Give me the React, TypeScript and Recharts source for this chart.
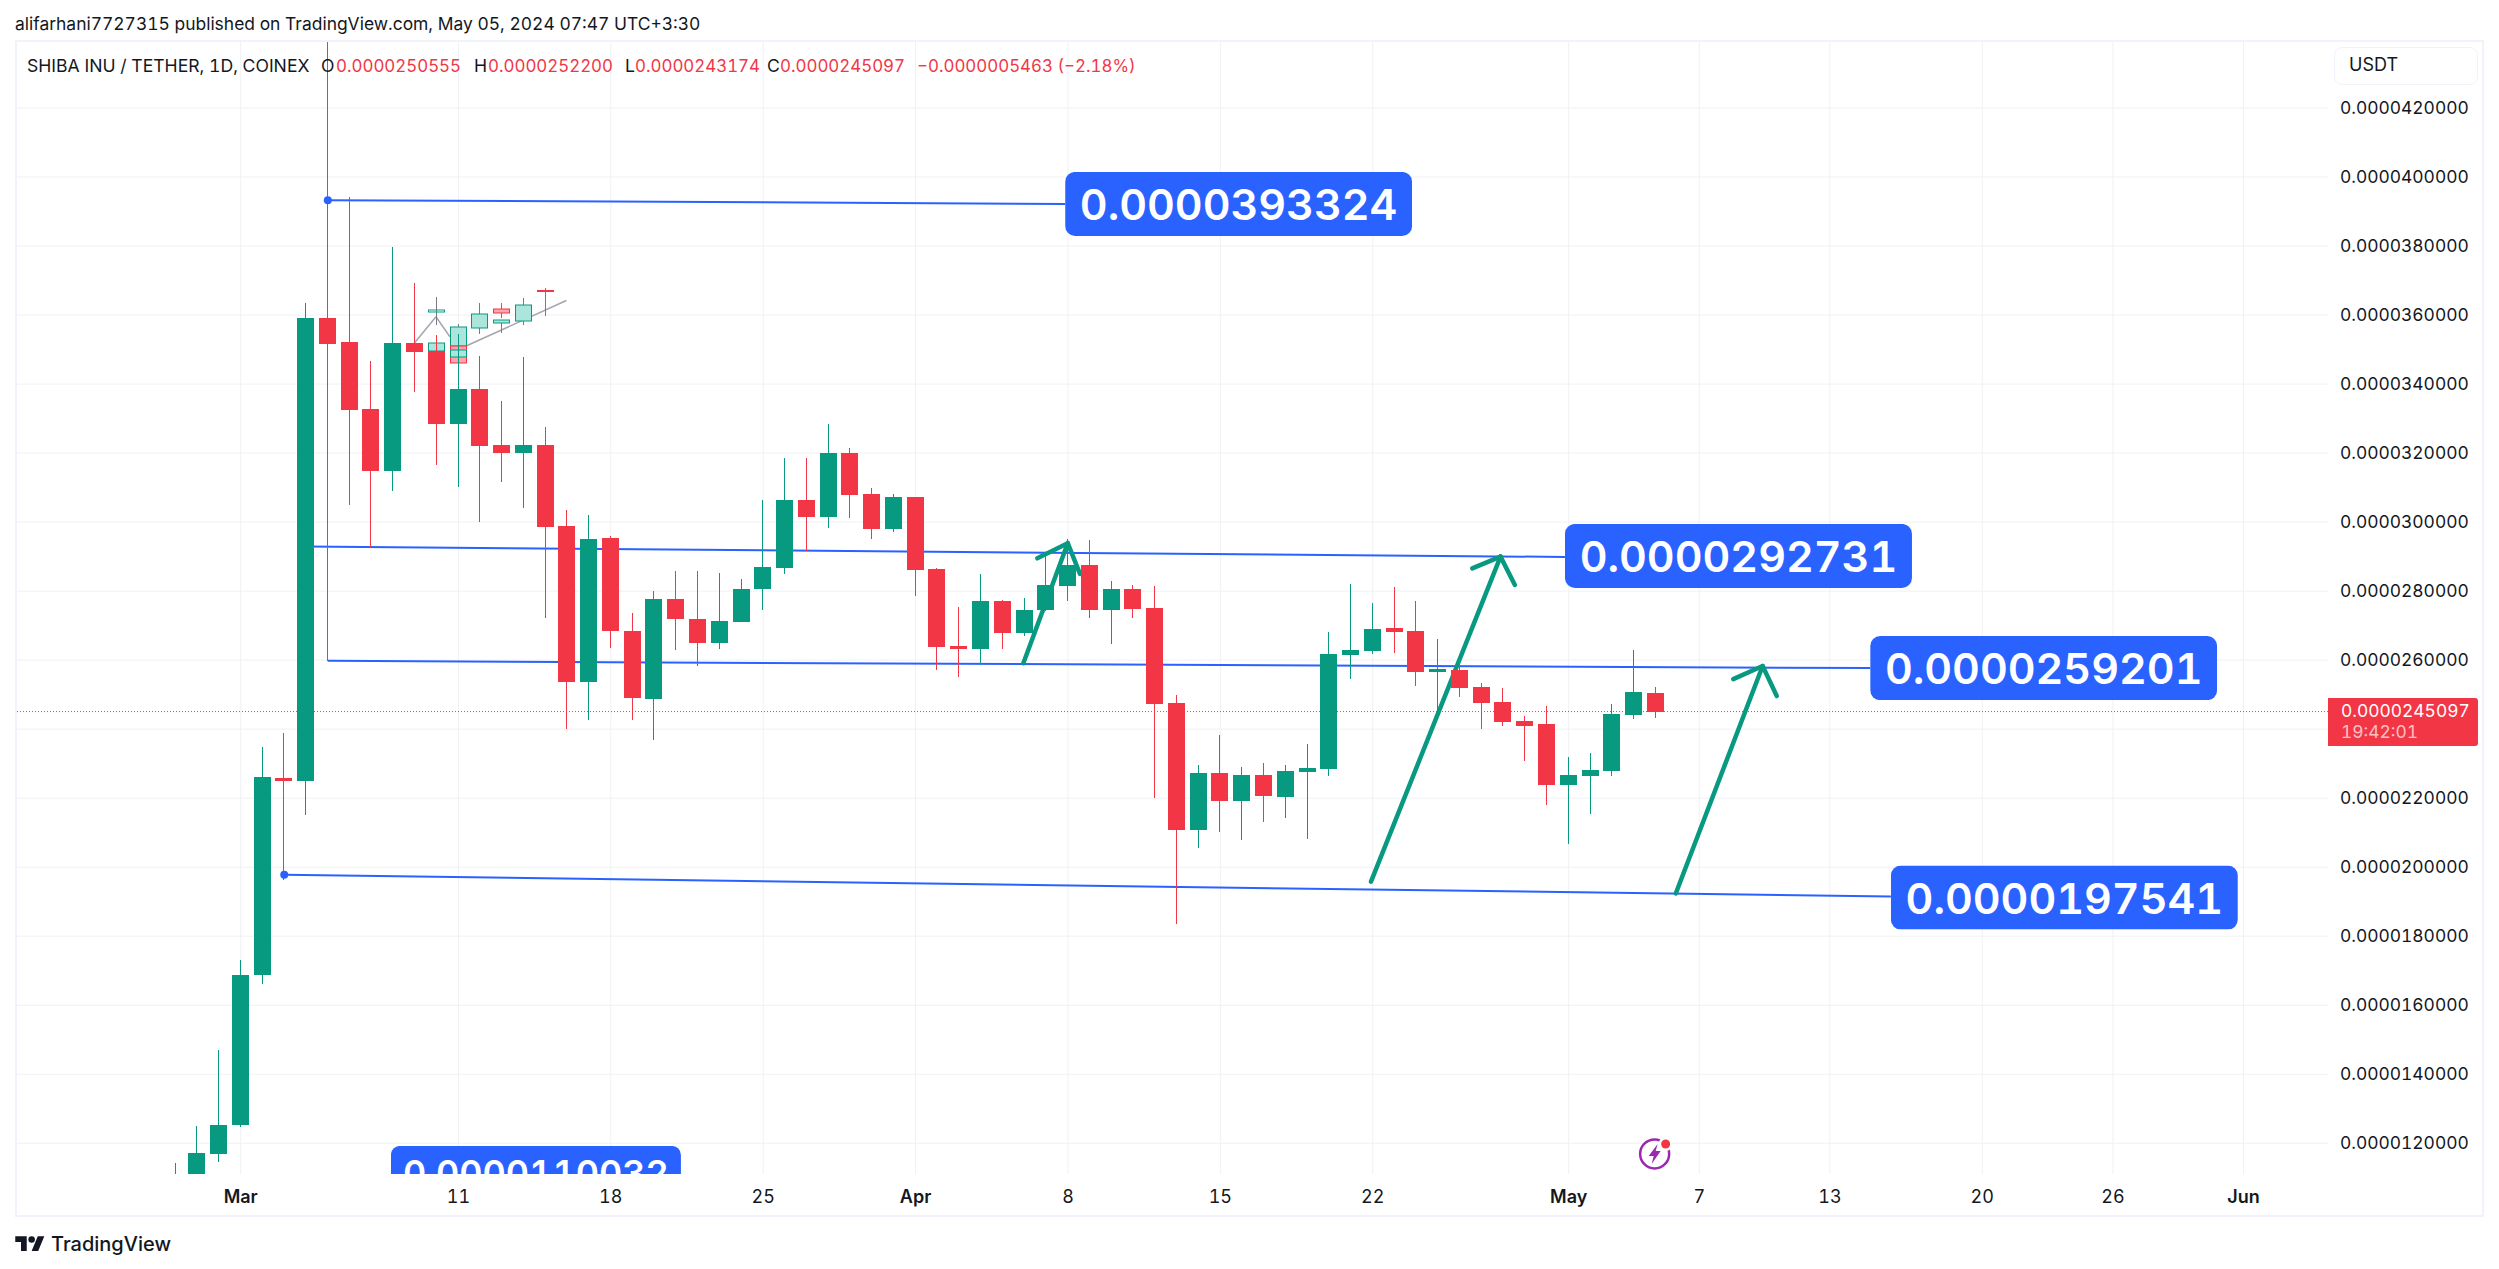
import { Bar, CartesianGrid, ComposedChart, ReferenceDot, ReferenceLine, XAxis, YAxis } from "recharts";

const UP = "#089981";
const DOWN = "#F23645";
const BLUE = "#2962FF";
const GRID = "#F0F1F4";
const INK = "#131722";
const FONT = "Inter, 'Noto Sans', sans-serif";

// prices are in millionths of USDT, days count from Mar 1
const days = [-3, -2, -1, 0, 1, 2, 3, 4, 5, 6, 7, 8, 9, 10, 11, 12, 13, 14, 15, 16, 17, 18, 19, 20, 21, 22, 23, 24, 25, 26, 27, 28, 29, 30, 31, 32, 33, 34, 35, 36, 37, 38, 39, 40, 41, 42, 43, 44, 45, 46, 47, 48, 49, 50, 51, 52, 53, 54, 55, 56, 57, 58, 59, 60, 61, 62, 63, 64, 65];
const opens = [10.8, 10.9, 11.69, 12.53, 16.88, 22.59, 22.51, 35.91, 35.22, 33.28, 31.48, 35.19, 34.96, 32.84, 33.86, 32.23, 32.0, 32.23, 29.89, 25.37, 29.54, 26.85, 24.87, 27.77, 27.19, 26.5, 27.11, 28.06, 28.67, 30.64, 30.15, 32.0, 30.81, 29.8, 30.73, 28.64, 26.41, 26.32, 27.71, 26.79, 27.45, 28.15, 28.76, 27.45, 28.06, 27.51, 24.76, 21.08, 22.73, 21.92, 22.67, 22.03, 22.76, 22.85, 26.15, 26.27, 26.93, 26.85, 25.66, 25.71, 25.22, 24.79, 24.24, 24.15, 22.38, 22.64, 22.79, 24.41, 25.06];
const highs = [11.43, 12.49, 14.71, 17.32, 23.48, 23.89, 36.35, 44.5, 39.42, 34.67, 37.97, 36.93, 35.42, 35.45, 34.81, 33.51, 34.78, 32.76, 30.35, 30.21, 29.6, 27.37, 28.0, 28.58, 28.58, 28.53, 28.35, 30.64, 31.86, 31.86, 32.84, 32.15, 30.99, 30.81, 30.73, 28.66, 27.54, 28.5, 27.73, 27.8, 29.05, 29.51, 29.48, 28.29, 28.18, 28.15, 24.99, 22.96, 23.83, 22.9, 23.02, 22.96, 23.57, 26.82, 28.21, 27.66, 28.12, 27.71, 26.61, 26.0, 25.34, 25.19, 24.38, 24.67, 23.19, 23.31, 24.73, 26.29, 25.22];
const lows = [10.7, 10.8, 11.47, 12.46, 16.61, 19.64, 21.52, 25.98, 30.5, 29.26, 30.9, 33.77, 31.66, 31.02, 30.0, 31.16, 30.41, 27.22, 24.0, 24.27, 26.35, 24.27, 23.69, 26.29, 25.83, 26.32, 27.11, 27.45, 28.5, 29.16, 29.83, 30.12, 29.51, 29.71, 27.86, 25.71, 25.51, 25.89, 26.32, 26.7, 27.42, 27.71, 27.22, 26.47, 27.22, 22.01, 18.35, 20.56, 21.02, 20.79, 21.31, 21.43, 20.82, 22.64, 25.45, 26.18, 26.21, 25.25, 24.47, 24.93, 24.0, 24.09, 23.08, 21.8, 20.67, 21.54, 22.64, 24.3, 24.32];
const closes = [11.0, 11.72, 12.53, 16.88, 22.62, 22.51, 35.91, 35.16, 33.25, 31.48, 35.19, 34.93, 32.84, 33.86, 32.21, 32.0, 32.23, 29.86, 25.37, 29.51, 26.85, 24.9, 27.77, 27.19, 26.5, 27.13, 28.06, 28.7, 30.64, 30.15, 32.0, 30.79, 29.8, 30.73, 28.61, 26.38, 26.32, 27.71, 26.79, 27.45, 28.18, 28.76, 27.45, 28.06, 27.48, 24.73, 21.08, 22.73, 21.92, 22.67, 22.06, 22.79, 22.88, 26.18, 26.29, 26.9, 26.82, 25.66, 25.74, 25.19, 24.76, 24.21, 24.09, 22.38, 22.67, 22.82, 24.44, 25.08, 24.51];

// faded forecast candles, [day, open, high, low, close]
const ghostFirst = [
  [9, 36.08, 36.52, 35.71, 36.14],
  [10, 35.11, 35.74, 35.11, 35.64],
  [11, 35.62, 36.35, 35.45, 36.02],
  [12, 36.17, 36.35, 35.9, 36.05],
  [13, 35.82, 36.49, 35.71, 36.28],
  [14, 36.73, 36.78, 35.97, 36.68],
];
const ghostSecond = [
  [9, 34.96, 35.18, 34.96, 35.18],
  [10, 35.1, 35.1, 34.6, 34.6],
  [12, 35.76, 35.85, 35.49, 35.85],
];
const ghostThird = [[10, 34.79, 34.98, 34.79, 34.98]];

const priceTicks = [12, 14, 16, 18, 20, 22, 24, 26, 28, 30, 32, 34, 36, 38, 40, 42];
const dayTicks = [0, 10, 17, 24, 31, 38, 45, 52, 61, 67, 73, 80, 86, 92];
const dayLabels = ["Mar", "11", "18", "25", "Apr", "8", "15", "22", "May", "7", "13", "20", "26", "Jun"];
const monthLabels = ["Mar", "Apr", "May", "Jun"];

// drawings: [day, price, day, price]
const blueLines = [
  [4, 39.33, 37.87, 39.22],
  [3, 29.29, 60.83, 28.99],
  [4, 25.98, 74.85, 25.77],
  [2, 19.78, 75.8, 19.15],
];
const blueDots = [[4, 39.33], [2, 19.78]];
const arrowLines = [
  [35.95, 25.91, 37.99, 29.39],
  [36.59, 28.95, 37.99, 29.39],
  [38.55, 28.5, 37.99, 29.39],
  [51.92, 19.58, 57.87, 29.0],
  [56.57, 28.66, 57.87, 29.0],
  [58.53, 28.18, 57.87, 29.0],
  [65.92, 19.24, 69.91, 25.83],
  [68.56, 25.45, 69.91, 25.83],
  [70.56, 24.96, 69.91, 25.83],
];
const ghostLines = [
  [7.97, 35.18, 8.97, 35.95],
  [8.97, 35.95, 9.61, 35.37],
  [10.38, 35.11, 14.96, 36.42],
];
const calloutDays = [37.87, 60.83, 74.85, 75.8, 6.9];
const calloutPrices = [39.22, 29.02, 25.77, 19.12, 11.14];
const calloutTexts = ["0.0000393324", "0.0000292731", "0.0000259201", "0.0000197541", "0.0000110032"];
const lastPrice = 24.51;

const candleKeys = ["main", "first", "second", "third"];
const rows = days.map((day, i) => {
  const row: any = { day, main: { o: opens[i], h: highs[i], l: lows[i], c: closes[i] }, mainRange: [lows[i], highs[i]] };
  return row;
});
[ghostFirst, ghostSecond, ghostThird].forEach((list, n) => {
  list.forEach(([day, o, h, l, c]) => {
    const row = rows.find((r) => r.day === day);
    row[candleKeys[n + 1]] = { o, h, l, c };
    row[candleKeys[n + 1] + "Range"] = [l, h];
  });
});

const PLOT_HEIGHT = 1132;

function candleShape(key: string, ghost: boolean) {
  return (props: any) => {
    const { x, y, width, height, payload } = props;
    const v = payload[key];
    if (!v) return <g />;
    const unit = height / (v.h - v.l);
    const at = (p: number) => Math.round(y + (v.h - p) * unit);
    const cx = Math.floor(x + width / 2) + 0.5;
    const color = v.c >= v.o ? UP : DOWN;
    const top = at(Math.max(v.o, v.c));
    const bottom = at(Math.min(v.o, v.c));
    if (ghost) {
      const pale = v.c >= v.o ? "#ACE5DC" : "#FCA5AB";
      const thin = bottom - top < 3;
      return (
        <g>
          <line x1={cx} x2={cx} y1={at(v.h)} y2={at(v.l)} stroke="#787B86" strokeWidth={1} />
          {key === "first" && v.h === 36.78 ? (
            <rect x={cx - 8.5} y={top} width={17} height={2} fill={DOWN} />
          ) : (
            <rect x={cx - 8} y={top} width={16} height={Math.max(bottom - top, 1)} fill={thin ? "none" : pale} stroke={color} strokeWidth={1} />
          )}
        </g>
      );
    }
    return (
      <g>
        <line x1={cx} x2={cx} y1={at(v.h)} y2={at(v.l)} stroke={color} strokeWidth={1} />
        <rect x={cx - 8.5} y={top} width={17} height={Math.max(bottom - top, 2)} fill={color} />
      </g>
    );
  };
}

function DayTick({ x, payload }: any) {
  const label = dayLabels[dayTicks.indexOf(payload.value)];
  return (
    <text x={x} y={1196 - 42} textAnchor="middle" dominantBaseline="central" fontFamily={FONT} fontSize={18} fill={INK} fontWeight={monthLabels.includes(label) ? 600 : 400}>
      {label}
    </text>
  );
}

function Callout({ cx, cy, text, small }: any) {
  const w = small ? 290 : 347;
  const h = small ? 54 : 64;
  const top = cy - h / 2;
  return (
    <svg x={cx} y={top} width={w} height={Math.min(h, PLOT_HEIGHT - top)}>
      <rect width={w} height={h} rx={small ? 9 : 10} fill={BLUE} />
      <text x={w / 2} y={h / 2} textAnchor="middle" dominantBaseline="central" fontFamily={FONT} fontSize={small ? 36 : 43} fontWeight={600} fill="#fff" style={{ fontVariantNumeric: "tabular-nums" }}>
        {text}
      </text>
    </svg>
  );
}

function BoltIcon({ cx, cy }: any) {
  return (
    <g>
      <circle cx={cx} cy={cy} r={14.5} fill="#fff" stroke="#9C27B0" strokeWidth={2.5} />
      <path d={`M${cx + 3} ${cy - 10} L${cx - 6} ${cy + 2} L${cx - 1} ${cy + 2} L${cx - 3} ${cy + 10} L${cx + 6} ${cy - 3} L${cx + 1} ${cy - 3} Z`} fill="#9C27B0" />
      <circle cx={cx + 11} cy={cy - 10} r={7} fill="#fff" />
      <circle cx={cx + 11} cy={cy - 10} r={4.5} fill={DOWN} />
    </g>
  );
}

function Caption({ left, top, color = INK, children, size = 17.6, weight = 400 }: any) {
  return (
    <span style={{ position: "absolute", left, top, transform: "translateY(-50%)", color, fontSize: size, fontWeight: weight, whiteSpace: "nowrap", lineHeight: 1 }}>
      {children}
    </span>
  );
}

export default function App() {
  return (
    <div style={{ position: "absolute", left: 0, top: 0, width: 2499, height: 1269, background: "#fff", overflow: "hidden", fontFamily: FONT, fontVariantNumeric: "tabular-nums" }}>
      <Caption left={15} top={24} size={17.45}>alifarhani7727315 published on TradingView.com, May 05, 2024 07:47 UTC+3:30</Caption>
      <div style={{ position: "absolute", left: 15, top: 40, width: 2465, height: 1173, border: "2px solid #F0F3FA" }} />
      <div style={{ position: "absolute", left: 17, top: 42 }}>
        <ComposedChart width={2465} height={1173} data={rows} margin={{ top: 0, right: 0, bottom: 0, left: 0 }} barGap={-17} barSize={17}>
          <CartesianGrid stroke={GRID} strokeWidth={1} syncWithTicks />
          <XAxis type="number" dataKey="day" domain={[-10.276, 95.88]} allowDataOverflow ticks={dayTicks} interval={0} height={41} tickLine={false} axisLine={false} tick={<DayTick />} />
          <YAxis
            orientation="right"
            domain={[11.11, 43.912]}
            allowDataOverflow
            ticks={priceTicks}
            interval={0}
            width={154}
            tickLine={false}
            axisLine={false}
            tickMargin={6}
            tick={{ fontFamily: FONT, fontSize: 17.4, fill: INK }}
            tickFormatter={(v: number) => (v / 1e6).toFixed(10)}
          />
          {blueLines.map(([a, b, c, d], i) => (
            <ReferenceLine key={"b" + i} segment={[{ x: a, y: b }, { x: c, y: d }]} stroke={BLUE} strokeWidth={2} ifOverflow="visible" zIndex={100} />
          ))}
          {arrowLines.map(([a, b, c, d], i) => (
            <ReferenceLine key={"a" + i} segment={[{ x: a, y: b }, { x: c, y: d }]} stroke={UP} strokeWidth={4.5} strokeLinecap="round" ifOverflow="visible" zIndex={100} />
          ))}
          {ghostLines.map(([a, b, c, d], i) => (
            <ReferenceLine key={"g" + i} segment={[{ x: a, y: b }, { x: c, y: d }]} stroke="#A3A6AF" strokeWidth={1.5} ifOverflow="visible" zIndex={100} />
          ))}
          <Bar dataKey="firstRange" isAnimationActive={false} shape={candleShape("first", true)} />
          <Bar dataKey="secondRange" isAnimationActive={false} shape={candleShape("second", true)} />
          <Bar dataKey="thirdRange" isAnimationActive={false} shape={candleShape("third", true)} />
          <Bar dataKey="mainRange" isAnimationActive={false} shape={candleShape("main", false)} />
          <ReferenceLine y={lastPrice} stroke={DOWN} strokeWidth={1} strokeDasharray="1 2" zIndex={1000} />
          {blueDots.map(([x, y], i) => (
            <ReferenceDot key={"d" + i} x={x} y={y} r={4} fill={BLUE} stroke="none" ifOverflow="visible" zIndex={1000} />
          ))}
          {calloutTexts.map((text, i) => (
            <ReferenceDot key={text} x={calloutDays[i]} y={calloutPrices[i]} ifOverflow="visible" zIndex={1000} shape={(p: any) => <Callout cx={p.cx} cy={p.cy} text={text} small={i === 4} />} />
          ))}
          <ReferenceDot x={64.95} y={11.69} ifOverflow="visible" zIndex={1000} shape={(p: any) => <BoltIcon cx={p.cx} cy={p.cy} />} />
        </ComposedChart>
      </div>

      <Caption left={27} top={66}>SHIBA INU / TETHER, 1D, COINEX</Caption>
      <Caption left={321} top={66}>O</Caption>
      <Caption left={336} top={66} size={16.9} color={DOWN}>0.0000250555</Caption>
      <Caption left={474} top={66}>H</Caption>
      <Caption left={488} top={66} size={16.9} color={DOWN}>0.0000252200</Caption>
      <Caption left={625} top={66}>L</Caption>
      <Caption left={635} top={66} size={16.9} color={DOWN}>0.0000243174</Caption>
      <Caption left={767} top={66}>C</Caption>
      <Caption left={780} top={66} size={16.9} color={DOWN}>0.0000245097</Caption>
      <Caption left={917} top={66} size={16.9} color={DOWN}>−0.0000005463 (−2.18%)</Caption>

      <div style={{ position: "absolute", left: 2334, top: 47, width: 144, height: 38, boxSizing: "border-box", border: "1px solid #F0F3FA", borderRadius: 8, background: "#fff" }} />
      <Caption left={2349} top={65} size={18}>USDT</Caption>

      <div style={{ position: "absolute", left: 2328, top: 698, width: 150, height: 48, background: DOWN, borderRadius: "0 3px 3px 0" }} />
      <Caption left={2341} top={711} size={17.4} color="#fff">0.0000245097</Caption>
      <Caption left={2341} top={732} size={17.4} color="rgba(255,255,255,0.7)">19:42:01</Caption>

      <svg style={{ position: "absolute", left: 15, top: 1233 }} width={30} height={18} viewBox="0 0 36 22">
        <path d="M14 22H7V11H0V4h14v18zM28 22h-8l7.5-18h8L28 22z" fill={INK} />
        <circle cx="20" cy="8" r="4" fill={INK} />
      </svg>
      <Caption left={51} top={1244} size={20} weight={500}>TradingView</Caption>
    </div>
  );
}
